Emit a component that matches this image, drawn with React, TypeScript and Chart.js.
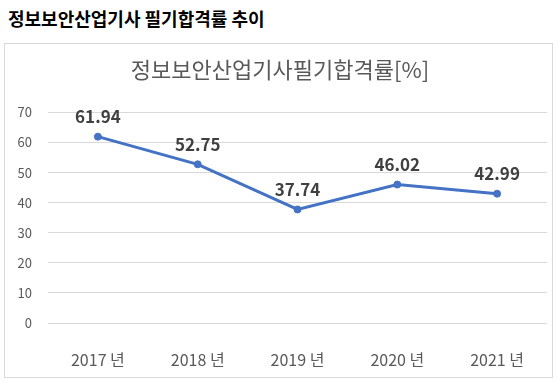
import React, { useEffect, useRef } from "react";
import { Chart, registerables } from "chart.js";

Chart.register(...registerables);

const categories = ["2017 년", "2018 년", "2019 년", "2020 년", "2021 년"];
const passRates = [61.94, 52.75, 37.74, 46.02, 42.99];
const yTicks = [0, 10, 20, 30, 40, 50, 60, 70];
const heading = "정보보안산업기사 필기합격률 추이";
const chartTitle = "정보보안산업기사필기합격률[%]";

const FONT = "'Noto Sans CJK KR', 'Noto Sans', sans-serif";

const labelPlugin = {
  id: "valueLabels",
  afterDatasetsDraw(chart: any) {
    const ctx = chart.ctx;
    const meta = chart.getDatasetMeta(0);
    ctx.save();
    ctx.font = `bold 17px ${FONT}`;
    ctx.fillStyle = "#404040";
    ctx.textAlign = "center";
    ctx.textBaseline = "middle";
    meta.data.forEach((pt: any, i: number) => {
      ctx.fillText(passRates[i].toFixed(2), pt.x, pt.y - 20);
    });
    ctx.restore();
  },
};

export default function App() {
  const ref = useRef<HTMLCanvasElement>(null);
  useEffect(() => {
    const chart = new Chart(ref.current!, {
      type: "line",
      data: {
        labels: categories,
        datasets: [
          {
            data: passRates,
            borderColor: "#4472C4",
            backgroundColor: "#4472C4",
            borderWidth: 3,
            pointRadius: 3.5,
            pointBorderWidth: 1,
            pointBackgroundColor: "#4472C4",
            pointBorderColor: "#4472C4",
            tension: 0,
          },
        ],
      },
      options: {
        animation: false,
        responsive: false,
        maintainAspectRatio: false,
        layout: { padding: { left: 6, right: 3, top: 0, bottom: 0 } },
        plugins: {
          legend: { display: false },
          tooltip: { enabled: false },
          title: {
            display: true,
            text: chartTitle,
            color: "#595959",
            font: { family: FONT, size: 22, weight: "normal" },
            padding: { top: 12, bottom: 30 },
          },
        },
        scales: {
          x: {
            offset: true,
            grid: { display: false },
            border: { display: false },
            ticks: {
              color: "#595959",
              font: { family: FONT, size: 16 },
              padding: 19,
              maxRotation: 0,
            },
            afterFit: (s: any) => {
              s.height = 54;
            },
          },
          y: {
            min: 0,
            max: 70,
            afterBuildTicks: (s: any) => {
              s.ticks = yTicks.map((v) => ({ value: v }));
            },
            grid: { color: "#d9d9d9", drawTicks: false },
            border: { display: false },
            ticks: {
              color: "#595959",
              font: { family: FONT, size: 13 },
              padding: 16,
            },
            afterFit: (s: any) => {
              s.width = 37;
            },
          },
        },
      },
      plugins: [labelPlugin],
    });
    return () => chart.destroy();
  }, []);

  return (
    <div
      style={{
        position: "absolute",
        left: 0,
        top: 0,
        width: 558,
        height: 383,
        background: "#fff",
      }}
    >
      <div
        style={{
          position: "absolute",
          left: 8,
          top: 5,
          fontFamily: FONT,
          fontWeight: "bold",
          fontSize: 18,
          color: "#000",
          lineHeight: "26px",
        }}
      >
        {heading}
      </div>
      <div
        style={{
          position: "absolute",
          left: 4,
          top: 43,
          width: 547,
          height: 333,
          border: "1px solid #d9d9d9",
        }}
      >
        <canvas ref={ref} width={547} height={333} style={{ display: "block" }} />
      </div>
    </div>
  );
}
